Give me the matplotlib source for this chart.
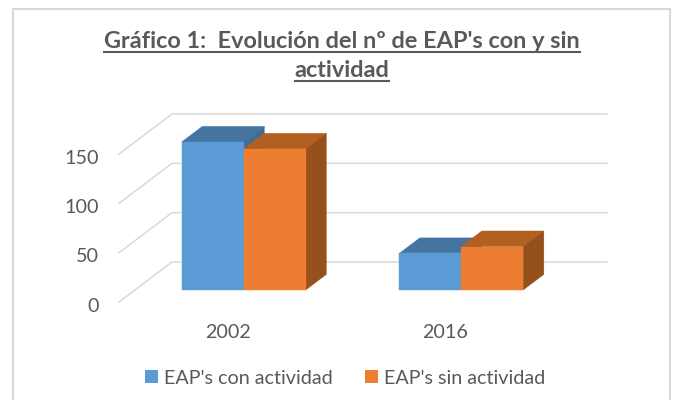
import matplotlib
matplotlib.use('Agg')
import matplotlib.pyplot as plt
from matplotlib.patches import Polygon, Patch

plt.rcParams['font.family'] = ['Lato', 'DejaVu Sans']

years = ['2002', '2016']
con_actividad = [150, 37]
sin_actividad = [143, 44]
y_ticks = [0, 50, 100, 150]
series_names = ["EAP's con actividad", "EAP's sin actividad"]
title_lines = ["Gráfico 1:  Evolución del nº de EAP's con y sin", "actividad"]

W, H = 673, 400
TEXT = '#595959'
GRID = '#d9d9d9'
BLUE = ('#5b9bd5', '#44749f', '#3f6d96')
ORANGE = ('#ed7d31', '#b2601f', '#96501b')

fig = plt.figure(figsize=(W / 100, H / 100), dpi=100)
fig.patch.set_facecolor('white')

# frame of the chart
fig.add_artist(plt.Rectangle((13 / W, -0.05), 657 / W, 1 - 9 / H + 0.05, transform=fig.transFigure,
                             fill=False, edgecolor='#d9d9d9', linewidth=1.5))

# front plane of the 3d box
left, right, top, bottom = 119, 554, 154, 302
ax = fig.add_axes([left / W, 1 - bottom / H, (right - left) / W, (bottom - top) / H])
ax.set_xlim(-0.5, 1.5)
ax.set_ylim(0, 150)
ax.axis('off')

# depth of the box, in data units per unit of depth
px_x = (right - left) / 2
px_y = (bottom - top) / 150
dx = 53 / px_x
dy = 40 / px_y


def proj(x, v, d):
    return (x + d * dx, v + d * dy)


# walls and grid
for v in y_ticks:
    xs, ys = zip(proj(-0.5, v, 0), proj(-0.5, v, 1), proj(1.5, v, 1))
    ax.plot(xs, ys, color=GRID, lw=1.1, clip_on=False, zorder=1)
    ax.annotate(str(v), (-0.5, v), xytext=(-20, -4), textcoords='offset pixels', ha='right', va='center',
                color=TEXT, fontsize=14.2, annotation_clip=False)

half = 62 / px_x
d0, d1 = 0.3, 0.69


def bar(x0, x1, v, colors, z):
    front, topc, side = colors
    ax.add_patch(Polygon([proj(x0, v, d0), proj(x1, v, d0), proj(x1, v, d1), proj(x0, v, d1)],
                         facecolor=topc, edgecolor=topc, lw=0.3, clip_on=False, zorder=z))
    ax.add_patch(Polygon([proj(x1, 0, d0), proj(x1, v, d0), proj(x1, v, d1), proj(x1, 0, d1)],
                         facecolor=side, edgecolor=side, lw=0.3, clip_on=False, zorder=z))
    ax.add_patch(Polygon([proj(x0, 0, d0), proj(x1, 0, d0), proj(x1, v, d0), proj(x0, v, d0)],
                         facecolor=front, edgecolor=front, lw=0.3, clip_on=False, zorder=z + 0.1))


for i, year in enumerate(years):
    bar(i - half, i, con_actividad[i], BLUE, 3)
    bar(i, i + half, sin_actividad[i], ORANGE, 4)
    ax.annotate(year, (i, 0), xytext=(0, -31), textcoords='offset pixels', ha='center', va='center',
                color=TEXT, fontsize=14.2, annotation_clip=False)

# title, underlined by hand
fig.canvas.draw()
for line, base, under in zip(title_lines, [48, 77], [52, 81]):
    t = fig.text(342 / W, 1 - base / H, line, ha='center', va='baseline', color=TEXT,
                 fontsize=16.9, fontweight='bold')
    box = t.get_window_extent(fig.canvas.get_renderer())
    uy = 1 - under / H
    fig.add_artist(plt.Line2D([box.x0 / W, box.x1 / W], [uy, uy], color=TEXT, lw=1.5))

handles = [Patch(facecolor=BLUE[0]), Patch(facecolor=ORANGE[0])]
fig.legend(handles, series_names, loc='center', bbox_to_anchor=(345 / W, 1 - 378 / H), ncol=2, frameon=False,
           fontsize=14.2, labelcolor=TEXT, handlelength=0.63, handleheight=0.65, handletextpad=0.3, columnspacing=1.67)

fig.savefig('out.png', dpi=100)
